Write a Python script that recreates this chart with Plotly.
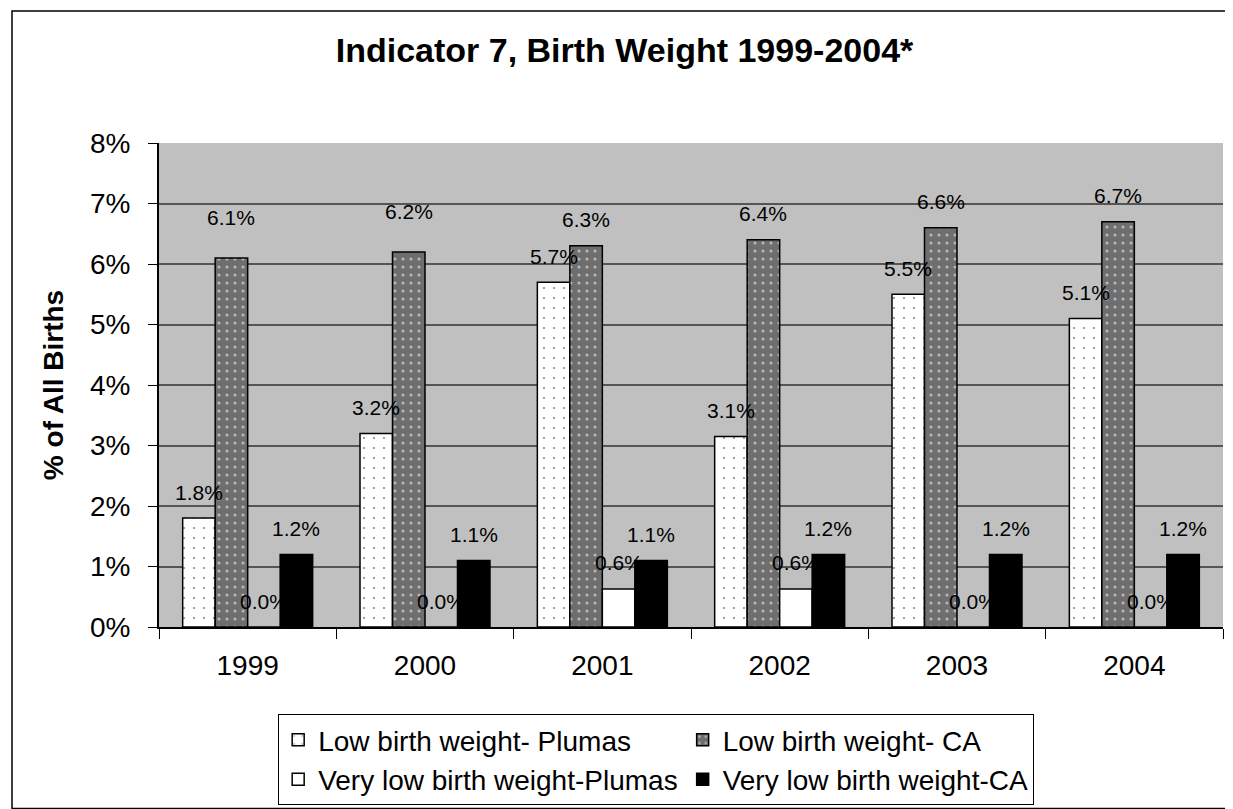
import plotly.graph_objects as go

years = ["1999", "2000", "2001", "2002", "2003", "2004"]
series_names = [
    "Low birth weight- Plumas",
    "Low birth weight- CA",
    "Very low birth weight-Plumas",
    "Very low birth weight-CA",
]
lbw_plumas = [1.8, 3.2, 5.7, 3.15, 5.5, 5.1]
lbw_ca = [6.1, 6.2, 6.3, 6.4, 6.6, 6.7]
vlbw_plumas = [0.0, 0.0, 0.63, 0.63, 0.0, 0.0]
vlbw_ca = [1.2, 1.1, 1.1, 1.2, 1.2, 1.2]
label_text = {
    0: ["1.8%", "3.2%", "5.7%", "3.1%", "5.5%", "5.1%"],
    1: ["6.1%", "6.2%", "6.3%", "6.4%", "6.6%", "6.7%"],
    2: ["0.0%", "0.0%", "0.6%", "0.6%", "0.0%", "0.0%"],
    3: ["1.2%", "1.1%", "1.1%", "1.2%", "1.2%", "1.2%"],
}
y_ticks = [0, 1, 2, 3, 4, 5, 6, 7, 8]
y_tick_text = [f"{t}%" for t in y_ticks]

values = [lbw_plumas, lbw_ca, vlbw_plumas, vlbw_ca]
groups = ["a", "b", "a", "b"]

FONT = "Liberation Sans, Arial, sans-serif"
styles = [
    dict(color="white", pattern=dict(shape=".", fgcolor="black", bgcolor="white", size=10, solidity=0.03)),
    dict(color="#6e6e6e", pattern=dict(shape=".", fgcolor="white", bgcolor="#6e6e6e", size=8, solidity=0.12)),
    dict(color="white"),
    dict(color="black"),
]

fig = go.Figure()
for i in range(4):
    st = styles[i]
    fig.add_trace(go.Bar(
        x=years, y=values[i], name=series_names[i], legendgroup=groups[i],
        marker=dict(color=st["color"], pattern=st.get("pattern"),
                    line=dict(color="black", width=1.5)),
    ))

bargap = 0.267
w = (1 - bargap) / 4
offsets = [-1.5 * w, -0.5 * w, 0.5 * w, 1.5 * w]
label_shift = {(1, 0): 40, (1, 1): 40}
for s in range(4):
    for j in range(len(years)):
        fig.add_annotation(
            x=j + offsets[s], y=values[s][j], text=label_text[s][j],
            showarrow=False, yanchor="middle", xanchor="center",
            yshift=label_shift.get((s, j), 26),
            font=dict(family=FONT, size=21, color="black"),
        )

ml, mr, mt, mb = 151, 18, 135, 186
W, H = 1233, 809
pw, ph = W - ml - mr, H - mt - mb
fig.add_shape(type="rect", xref="paper", yref="paper",
              x0=(4 - ml) / pw, x1=(1230 - ml) / pw,
              y0=-(806 - (H - mb)) / ph, y1=((H - mb) - 2) / ph,
              line=dict(color="black", width=1.5), fillcolor="rgba(0,0,0,0)", layer="below")

fig.update_layout(
    width=W, height=H,
    margin=dict(l=ml, r=mr, t=mt, b=mb),
    paper_bgcolor="white", plot_bgcolor="#c0c0c0",
    barmode="group", bargap=bargap, bargroupgap=0,
    font=dict(family=FONT, size=28, color="black"),
    title=dict(text="<b>Indicator 7, Birth Weight 1999-2004*</b>", x=0.5, xanchor="center",
               y=1 - 42 / H, yanchor="middle", font=dict(size=34)),
    showlegend=True,
    legend=dict(orientation="h", traceorder="grouped", x=0.112, xanchor="left",
                y=-0.18, yanchor="top", bordercolor="black", borderwidth=1,
                bgcolor="white", font=dict(size=28), tracegroupgap=0),
    xaxis=dict(type="category", showline=True, linecolor="black", linewidth=2,
               ticks="outside", tickson="boundaries", ticklen=10, tickcolor="black",
               ticklabelstandoff=12, showgrid=False),
    yaxis=dict(range=[0, 8], tickvals=y_ticks, ticktext=y_tick_text,
               showline=True, linecolor="black", linewidth=2,
               ticks="outside", ticklen=9, tickcolor="black", ticklabelstandoff=12,
               showgrid=True, gridcolor="#555555", gridwidth=1.5, zeroline=False,
               title=dict(text="<b>% of All Births</b>", standoff=18, font=dict(size=28))),
)

fig.write_html("out.html")
